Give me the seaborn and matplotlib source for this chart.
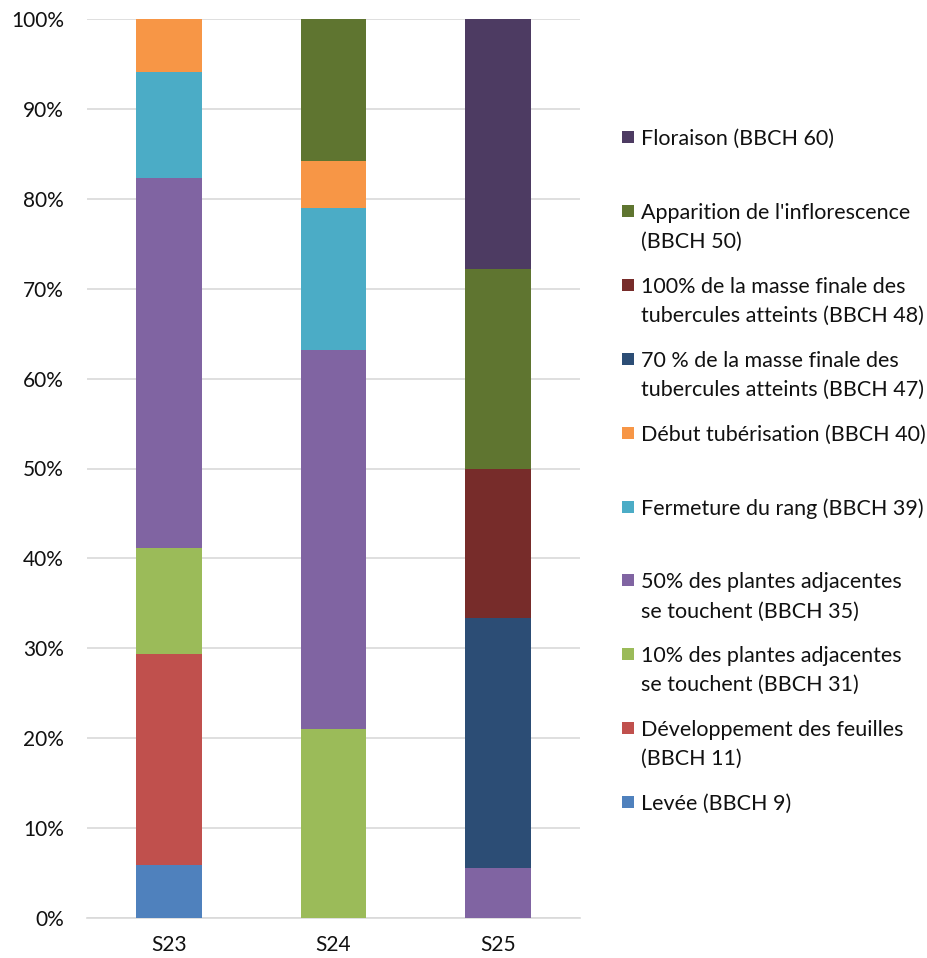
import numpy as np
import matplotlib
matplotlib.use("Agg")
import matplotlib.pyplot as plt
from matplotlib.patches import Rectangle
import seaborn as sns

# Number of plots observed at each BBCH stage, per sampling week
seasons = ["S23", "S24", "S25"]
stages = [
    "Levée (BBCH 9)",
    "Développement des feuilles\n(BBCH 11)",
    "10% des plantes adjacentes\nse touchent (BBCH 31)",
    "50% des plantes adjacentes\nse touchent (BBCH 35)",
    "Fermeture du rang (BBCH 39)",
    "Début tubérisation (BBCH 40)",
    "70 % de la masse finale des\ntubercules atteints (BBCH 47)",
    "100% de la masse finale des\ntubercules atteints (BBCH 48)",
    "Apparition de l'inflorescence\n(BBCH 50)",
    "Floraison (BBCH 60)",
]
counts_s23 = [1, 4, 2, 7, 2, 1, 0, 0, 0, 0]
counts_s24 = [0, 0, 4, 8, 3, 1, 0, 0, 3, 0]
counts_s25 = [0, 0, 0, 1, 0, 0, 5, 3, 4, 5]
colors = ["#4F81BD", "#C0504D", "#9BBB59", "#8064A2", "#4BACC6",
          "#F79646", "#2C4D75", "#772C2A", "#5F7530", "#4D3B62"]

sns.set_theme(style="white")
plt.rcParams["font.family"] = ["Lato", "DejaVu Sans"]

W, H = 928, 958
fig = plt.figure(figsize=(W / 100, H / 100), dpi=100)
ax = fig.add_axes([87 / W, 1 - 918 / H, (580 - 87) / W, (918 - 19) / H])

counts = np.array([counts_s23, counts_s24, counts_s25], dtype=float)
pct = counts / counts.sum(axis=1, keepdims=True) * 100
bottom = np.zeros(len(seasons))
for j, (stage, col) in enumerate(zip(stages, colors)):
    sns.barplot(x=seasons, y=pct[:, j], bottom=bottom, color=col,
                saturation=1, width=0.4, ax=ax, zorder=3, linewidth=0)
    bottom = bottom + pct[:, j]

ax.set_xlim(-0.5, 2.5)
ax.set_ylim(0, 100)
ax.set_yticks(np.arange(0, 101, 10))
ax.set_yticklabels([f"{v}%" for v in range(0, 101, 10)])
ax.yaxis.grid(True, color="#D9D9D9", linewidth=1.2, zorder=0)
ax.set_axisbelow(True)
for s in ["top", "right", "left"]:
    ax.spines[s].set_visible(False)
ax.spines["bottom"].set_color("#D9D9D9")
ax.spines["bottom"].set_linewidth(1.2)
ax.tick_params(axis="y", length=0, pad=16.5, labelsize=15, labelcolor="#111111")
ax.tick_params(axis="x", length=0, pad=12, labelsize=15, labelcolor="#111111")
ax.set_xlabel("")
ax.set_ylabel("")

# Legend, top entry first (reverse of stacking order)
x_box, x_txt = 622, 641
box = 12
line_gap = 29
for i, j in enumerate(range(len(stages) - 1, -1, -1)):
    y0 = 137 + i * 73.9
    fig.patches.append(Rectangle((x_box / W, 1 - (y0 + box / 2) / H), box / W, box / H,
                                 transform=fig.transFigure, facecolor=colors[j],
                                 edgecolor="none"))
    for k, line in enumerate(stages[j].split("\n")):
        fig.text(x_txt / W, 1 - (y0 + k * line_gap) / H, line, ha="left",
                 va="center_baseline", fontsize=15.5, color="#111111")

fig.savefig("out.png", dpi=100)
